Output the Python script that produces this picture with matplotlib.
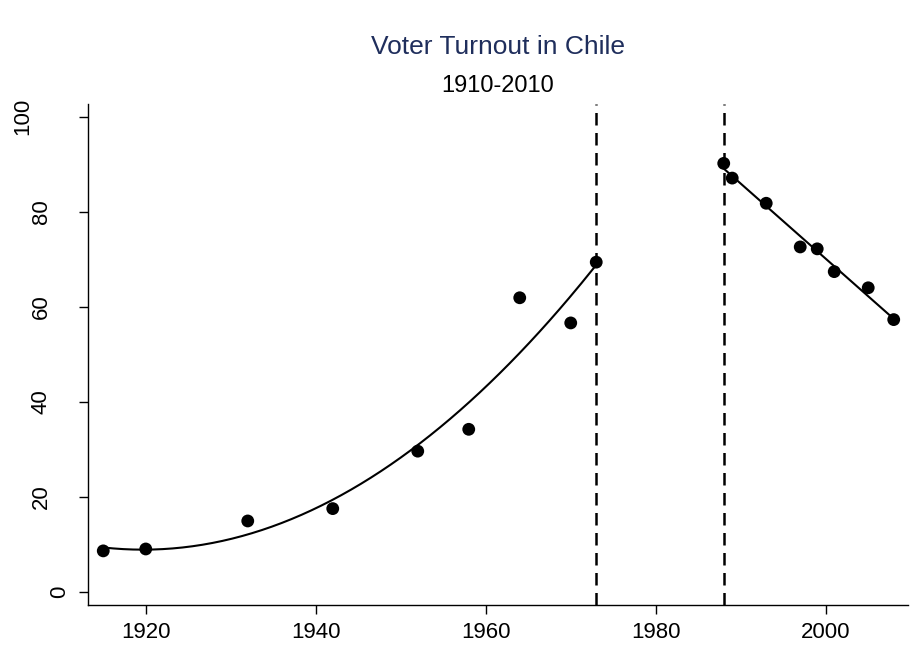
import matplotlib
matplotlib.use("Agg")
import matplotlib.pyplot as plt
import numpy as np

plt.rcParams['font.family'] = ['Liberation Sans', 'DejaVu Sans']

# turnout before the coup
years_a = [1915, 1920, 1932, 1942, 1952, 1958, 1964, 1970, 1973]
turnout_a = [8.6, 9.0, 14.9, 17.5, 29.6, 34.2, 61.9, 56.6, 69.4]

# turnout after return to democracy
years_b = [1988, 1989, 1993, 1997, 1999, 2001, 2005, 2008]
turnout_b = [90.2, 87.1, 81.8, 72.6, 72.2, 67.4, 64.0, 57.3]

breaks = [1973, 1988]
xticks = [1920, 1940, 1960, 1980, 2000]
yticks = [0, 20, 40, 60, 80, 100]

fig = plt.figure(figsize=(9.22, 6.65), dpi=100)
ax = fig.add_axes([0.0954, 0.0902, 0.8896, 0.7534])

# quadratic fit first period, linear fit second
qa = np.polyfit(years_a, turnout_a, 2)
xa = np.linspace(min(years_a), max(years_a), 200)
ax.plot(xa, np.polyval(qa, xa), color='black', lw=1.5, zorder=2)

lb = np.polyfit(years_b, turnout_b, 1)
xb = np.linspace(min(years_b), max(years_b), 50)
ax.plot(xb, np.polyval(lb, xb), color='black', lw=1.5, zorder=2)

ax.scatter(years_a + years_b, turnout_a + turnout_b, s=85, color='black',
           edgecolors='none', zorder=3)

for b in breaks:
    ax.axvline(b, color='black', lw=1.8, ls=(0, (5, 3)), zorder=1)

ax.set_xlim(1913.2, 2009.7)
ax.set_ylim(-2.8, 102.7)
ax.set_xticks(xticks)
ax.set_yticks(yticks)
ax.tick_params(axis='both', labelsize=16, length=6.5, width=1, direction='out')
ax.tick_params(axis='x', pad=6)

# stata-like staggering of rotated y labels (longer labels sit further left)
for tick, val in zip(ax.yaxis.get_major_ticks(), yticks):
    n = len(str(val))
    tick.set_pad((19 + 18.5 * (n - 1)) * 0.72)
    tick.label1.set_rotation(90)
    tick.label1.set_va('center')
    tick.label1.set_ha('center')

for side in ['top', 'right']:
    ax.spines[side].set_visible(False)
for side in ['left', 'bottom']:
    ax.spines[side].set_linewidth(1)

fig.text(0.54, 0.930, 'Voter Turnout in Chile', ha='center', va='center',
         fontsize=19, color='#1f2e5c')
fig.text(0.54, 0.870, '1910-2010', ha='center', va='center', fontsize=17,
         color='black')

fig.savefig('out.png', dpi=100)
